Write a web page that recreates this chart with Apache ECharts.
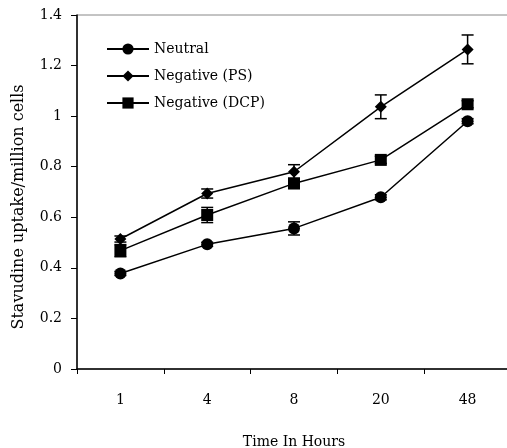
<!DOCTYPE html>
<html lang="en">
<head>
    <meta charset="UTF-8">
    <title>Stavudine uptake</title>
    <script src="https://cdn.jsdelivr.net/npm/echarts@6/dist/echarts.min.js"></script>
    <style>
        html, body {margin: 0; padding: 0; background: #fff;}
    </style>
</head>
<body>
<div id="chart" style="width:507px; height:448px;"></div>
<script type="text/javascript">
    // categories (hours)
    var hours = ['1', '4', '8', '20', '48'];

    // means
    var neutral = [0.378, 0.493, 0.556, 0.679, 0.980];
    var negPS = [0.514, 0.694, 0.780, 1.037, 1.264];
    var negDCP = [0.468, 0.609, 0.734, 0.827, 1.047];

    // error (+/-)
    var neutralErr = [0.008, 0.008, 0.026, 0.010, 0.010];
    var negPSErr = [0.012, 0.018, 0.028, 0.047, 0.057];
    var negDCPErr = [0.024, 0.030, 0.020, 0.014, 0.014];

    var serif = 'DejaVu Serif';

    // build [index, low, high] rows for the error bar series
    function errRows(mean, err) {
        var rows = [];
        for (var i = 0; i < mean.length; i++) {
            rows.push([i, mean[i] - err[i], mean[i] + err[i]]);
        }
        return rows;
    }

    function renderErr(params, api) {
        var x = api.value(0);
        var lo = api.coord([x, api.value(1)]);
        var hi = api.coord([x, api.value(2)]);
        var half = 6;
        var st = {stroke: '#000', lineWidth: 1.5};
        return {
            type: 'group',
            children: [
                {type: 'line', shape: {x1: lo[0], y1: lo[1], x2: hi[0], y2: hi[1]}, style: st},
                {type: 'line', shape: {x1: lo[0] - half, y1: lo[1], x2: lo[0] + half, y2: lo[1]}, style: st},
                {type: 'line', shape: {x1: hi[0] - half, y1: hi[1], x2: hi[0] + half, y2: hi[1]}, style: st}
            ]
        };
    }

    function lineSeries(name, data, symbol) {
        return {
            name: name,
            type: 'line',
            data: data,
            symbol: symbol,
            symbolSize: 12,
            lineStyle: {color: '#000', width: 1.5},
            itemStyle: {color: '#000'},
            z: 3,
            animation: false
        };
    }

    function errSeries(mean, err) {
        return {
            type: 'custom',
            renderItem: renderErr,
            data: errRows(mean, err),
            encode: {x: 0, y: [1, 2]},
            z: 4,
            silent: true,
            animation: false
        };
    }

    var myChart = echarts.init(document.getElementById('chart'));
    myChart.setOption({
        animation: false,
        grid: {
            left: 77, top: 15, width: 434, height: 354,
            outerBoundsMode: 'none',
            containLabel: false,
            show: true, borderColor: '#888', borderWidth: 1
        },
        legend: {
            orient: 'vertical',
            left: 101,
            top: 37,
            itemWidth: 42,
            itemHeight: 14,
            itemGap: 13,
            textStyle: {fontFamily: serif, fontSize: 14, color: '#000'},
            data: ['Neutral', 'Negative (PS)', 'Negative (DCP)']
        },
        xAxis: {
            type: 'category',
            data: hours,
            boundaryGap: true,
            name: 'Time In Hours',
            nameLocation: 'middle',
            nameGap: 66,
            nameTextStyle: {fontFamily: serif, fontSize: 14, color: '#000'},
            axisLine: {lineStyle: {color: '#000', width: 1.5}},
            axisTick: {show: true, length: 5, lineStyle: {color: '#000'}},
            axisLabel: {fontFamily: serif, fontSize: 14, color: '#000', margin: 24},
            splitLine: {show: false}
        },
        yAxis: {
            type: 'value',
            min: 0,
            max: 1.4,
            interval: 0.2,
            name: 'Stavudine uptake/million cells',
            nameLocation: 'middle',
            nameGap: 50,
            nameTextStyle: {fontFamily: serif, fontSize: 16, color: '#000', padding: [0, 30, 0, 0]},
            axisLine: {show: true, lineStyle: {color: '#000', width: 1.5}},
            axisTick: {show: true, length: 6, lineStyle: {color: '#000'}},
            axisLabel: {fontFamily: serif, fontSize: 14, color: '#000', margin: 15},
            splitLine: {show: false}
        },
        series: [
            lineSeries('Neutral', neutral, 'circle'),
            lineSeries('Negative (PS)', negPS, 'diamond'),
            lineSeries('Negative (DCP)', negDCP, 'rect'),
            errSeries(neutral, neutralErr),
            errSeries(negPS, negPSErr),
            errSeries(negDCP, negDCPErr)
        ]
    });
</script>
</body>
</html>
